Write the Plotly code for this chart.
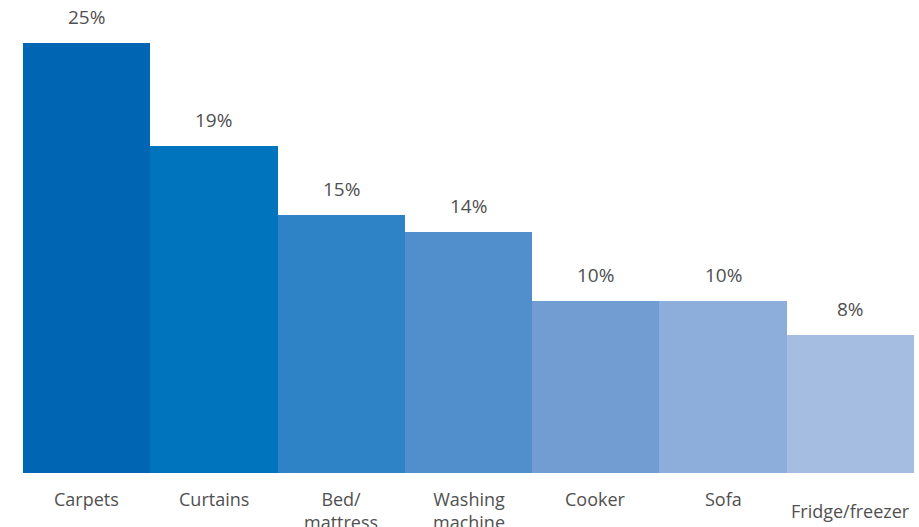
import plotly.graph_objects as go

categories = ["Carpets", "Curtains", "Bed/ mattress", "Washing machine", "Cooker", "Sofa", "Fridge/freezer"]
tick_labels = ["Carpets", "Curtains", "Bed/<br>mattress", "Washing<br>machine", "Cooker", "Sofa", "Fridge/freezer"]
values = [25, 19, 15, 14, 10, 10, 8]
colors = ["#0066B3", "#0075BE", "#2E82C6", "#508FCC", "#719DD3", "#8DADDB", "#A6BDE2"]
label_drop = [0, 0, 0, 0, 0, 0, 12]

FONT = "Open Sans, Nunito, sans-serif"
GREY = "#505050"

fig = go.Figure(go.Bar(
    x=categories, y=values, marker=dict(color=colors, line=dict(width=0)),
    width=1.0, hoverinfo="skip",
))

annotations = []
for c, v in zip(categories, values):
    annotations.append(dict(x=c, y=v, xref="x", yref="y", text=f"{v}%", showarrow=False,
                            yanchor="bottom", yshift=15, height=18, valign="middle",
                            font=dict(family=FONT, size=19, color=GREY)))
for c, t, d in zip(categories, tick_labels, label_drop):
    annotations.append(dict(x=c, y=0, xref="x", yref="paper", text=t, showarrow=False,
                            yanchor="top", yshift=-12 - d, font=dict(family=FONT, size=18, color=GREY)))

fig.update_layout(
    width=919, height=527,
    margin=dict(l=23, r=5, t=43, b=54),
    paper_bgcolor="white", plot_bgcolor="white",
    bargap=0, showlegend=False,
    annotations=annotations,
    xaxis=dict(showticklabels=False, showgrid=False, zeroline=False, showline=False),
    yaxis=dict(range=[0, 25], visible=False, showgrid=False),
)

# remove the default page margin so the figure fills the window exactly
fig.write_html("out.html", config={"displayModeBar": False},
               post_script="document.body.style.margin='0';document.body.style.overflow='hidden';")
